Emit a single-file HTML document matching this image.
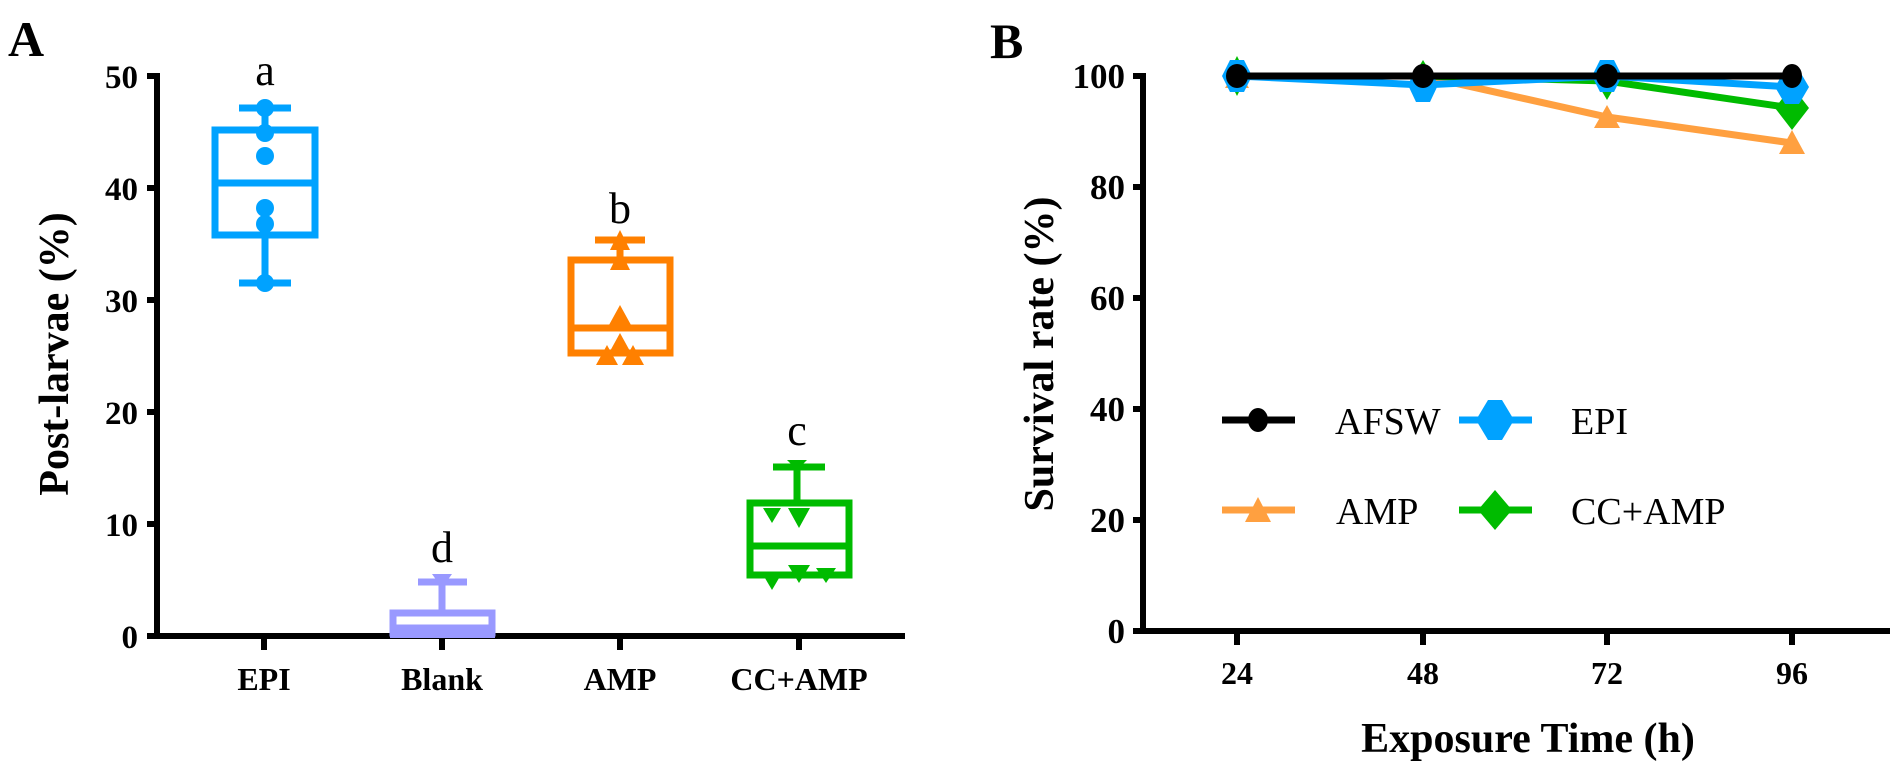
<!DOCTYPE html>
<html><head><style>body{margin:0;background:#fff}svg{display:block}</style></head><body>
<svg width="1900" height="770" xmlns="http://www.w3.org/2000/svg" font-family="Liberation Serif, serif">
<rect width="1900" height="770" fill="#fff"/>
<text x="8" y="56" font-size="50" font-weight="bold">A</text>
<text x="990" y="58" font-size="50" font-weight="bold">B</text>
<!-- Panel A axes -->
<g stroke="#000" stroke-width="6" fill="none">
<line x1="157" y1="73" x2="157" y2="639"/>
<line x1="154" y1="636" x2="905" y2="636"/>
<line x1="147" y1="76" x2="157" y2="76"/><line x1="147" y1="188" x2="157" y2="188"/><line x1="147" y1="300" x2="157" y2="300"/><line x1="147" y1="412" x2="157" y2="412"/><line x1="147" y1="524" x2="157" y2="524"/><line x1="147" y1="636" x2="157" y2="636"/>
<line x1="264" y1="636" x2="264" y2="650"/><line x1="442" y1="636" x2="442" y2="650"/><line x1="620" y1="636" x2="620" y2="650"/><line x1="799" y1="636" x2="799" y2="650"/>
</g>
<g font-size="33" font-weight="bold" text-anchor="end">
<text x="138" y="88">50</text><text x="138" y="200">40</text><text x="138" y="312">30</text><text x="138" y="424">20</text><text x="138" y="536">10</text><text x="138" y="648">0</text>
</g>
<text transform="translate(68,354) rotate(-90)" font-size="42" font-weight="bold" text-anchor="middle">Post-larvae (%)</text>
<g font-size="32" font-weight="bold" text-anchor="middle">
<text x="264" y="690">EPI</text><text x="442" y="690">Blank</text><text x="620" y="690">AMP</text><text x="799" y="690">CC+AMP</text>
</g>
<g font-size="44" text-anchor="middle">
<text x="265" y="85">a</text><text x="620" y="223">b</text><text x="442" y="562">d</text><text x="797" y="445">c</text>
</g>
<!-- EPI -->
<g stroke="#00a2ff" stroke-width="7" fill="none">
<rect x="215" y="130" width="100" height="105"/><line x1="215" y1="183" x2="315" y2="183"/>
<line x1="265" y1="130" x2="265" y2="108"/><line x1="239" y1="108" x2="291" y2="108"/>
<line x1="265" y1="235" x2="265" y2="283"/><line x1="239" y1="283" x2="291" y2="283"/>
</g>
<g fill="#00a2ff"><circle cx="265" cy="108" r="9"/><circle cx="265" cy="133" r="9"/><circle cx="265" cy="156" r="9"/><circle cx="265" cy="208" r="9"/><circle cx="265" cy="224" r="9"/><circle cx="265" cy="283" r="9"/></g>
<!-- Blank -->
<g stroke="#9999ff" stroke-width="7" fill="none">
<rect x="393" y="613" width="99" height="20"/><line x1="393" y1="628" x2="492" y2="628"/><line x1="442" y1="613" x2="442" y2="582"/><line x1="418" y1="582" x2="467" y2="582"/>
</g>
<g fill="#9999ff"><rect x="390" y="625" width="105" height="13"/><path d="M432 574h20l-10 14z"/></g>
<!-- AMP -->
<g stroke="#ff8000" stroke-width="7" fill="none">
<rect x="571" y="260" width="99" height="93"/><line x1="571" y1="328" x2="670" y2="328"/>
<line x1="620" y1="260" x2="620" y2="240"/><line x1="595" y1="240" x2="645" y2="240"/>
</g>
<g fill="#ff8000"><path d="M620 230l10 20h-20z"/><path d="M620 250l10 20h-20z"/><path d="M620 305l11 20h-22z"/><path d="M620 333l11 20h-22z"/><path d="M607 345l11 20h-22z"/><path d="M633 345l11 20h-22z"/></g>
<!-- CC+AMP -->
<g stroke="#00bb00" stroke-width="7" fill="none">
<rect x="750" y="503" width="99" height="72"/><line x1="750" y1="546" x2="849" y2="546"/>
<line x1="797" y1="503" x2="797" y2="467"/><line x1="773" y1="467" x2="825" y2="467"/>
</g>
<g fill="#00bb00"><path d="M787 460h20l-10 10z"/><path d="M763 508h18l-9 15z"/><path d="M788 508h22l-11 20z"/><path d="M762 573h20l-10 17z"/><path d="M788 565h22l-11 18z"/><path d="M816 568h20l-10 15z"/></g>
<!-- Panel B axes -->
<g stroke="#000" stroke-width="6" fill="none">
<line x1="1143" y1="73" x2="1143" y2="634"/>
<line x1="1140" y1="631" x2="1890" y2="631"/>
<line x1="1133" y1="76" x2="1143" y2="76"/><line x1="1133" y1="187" x2="1143" y2="187"/><line x1="1133" y1="298" x2="1143" y2="298"/><line x1="1133" y1="409" x2="1143" y2="409"/><line x1="1133" y1="520" x2="1143" y2="520"/><line x1="1133" y1="631" x2="1143" y2="631"/>
<line x1="1237" y1="631" x2="1237" y2="645"/><line x1="1423" y1="631" x2="1423" y2="645"/><line x1="1607" y1="631" x2="1607" y2="645"/><line x1="1792" y1="631" x2="1792" y2="645"/>
</g>
<g font-size="35" font-weight="bold" text-anchor="end">
<text x="1125" y="88">100</text><text x="1125" y="199">80</text><text x="1125" y="310">60</text><text x="1125" y="421">40</text><text x="1125" y="532">20</text><text x="1125" y="643">0</text>
</g>
<g font-size="32" font-weight="bold" text-anchor="middle">
<text x="1237" y="684">24</text><text x="1423" y="684">48</text><text x="1607" y="684">72</text><text x="1792" y="684">96</text>
</g>
<text x="1528" y="752" font-size="42" font-weight="bold" text-anchor="middle">Exposure Time (h)</text>
<text transform="translate(1053,354) rotate(-90)" font-size="42" font-weight="bold" text-anchor="middle">Survival rate  (%)</text>
<!-- series -->
<polyline points="1237,76 1423,76 1607,117 1792,143" stroke="#ffa040" stroke-width="7" fill="none"/>
<g fill="#ffa040"><path d="M1237 68l12 20h-24z"/><path d="M1607 105l13 23h-26z"/><path d="M1792 130l13 24h-26z"/></g>
<polyline points="1237,76 1423,76 1607,81 1792,108" stroke="#00bb00" stroke-width="7" fill="none"/>
<g fill="#00bb00"><path d="M1237 56l10 20-10 20-10-20z"/><path d="M1423 60l11 18-11 18-11-18z"/><path d="M1607 62l11 19-11 19-11-19z"/><path d="M1792 86l17 22-17 22-17-22z"/></g>
<polyline points="1237,76 1423,85 1607,76 1792,87" stroke="#00a2ff" stroke-width="7" fill="none"/>
<g fill="#00a2ff"><path d="M1230 60h14l8 16-8 16h-14l-8-16z"/><path d="M1416 68h14l8 17-8 17h-14l-8-17z"/><path d="M1600 60h14l8 16-8 16h-14l-8-16z"/><path d="M1785 70h14l10 17-10 17h-14l-10-17z"/></g>
<polyline points="1237,76 1423,76 1607,76 1792,76" stroke="#000" stroke-width="7" fill="none"/>
<g fill="#000"><ellipse cx="1237" cy="76" rx="11" ry="12"/><ellipse cx="1423" cy="76" rx="11" ry="12"/><ellipse cx="1607" cy="76" rx="11" ry="12"/><ellipse cx="1792" cy="76" rx="10" ry="12"/></g>
<!-- legend -->
<line x1="1222" y1="420" x2="1295" y2="420" stroke="#000" stroke-width="7"/><ellipse cx="1258" cy="420" rx="10" ry="12"/>
<text x="1335" y="434" font-size="38">AFSW</text>
<line x1="1459" y1="420" x2="1532" y2="420" stroke="#00a2ff" stroke-width="7"/><path d="M1488 400h14l12 20-12 20h-14l-12-20z" fill="#00a2ff"/>
<text x="1571" y="434" font-size="38">EPI</text>
<line x1="1222" y1="510" x2="1295" y2="510" stroke="#ffa040" stroke-width="7"/><path d="M1258 497l13 25h-26z" fill="#ffa040"/>
<text x="1336" y="524" font-size="38">AMP</text>
<line x1="1459" y1="510" x2="1532" y2="510" stroke="#00bb00" stroke-width="7"/><path d="M1495 490l17 20-17 20-17-20z" fill="#00bb00"/>
<text x="1571" y="524" font-size="38">CC+AMP</text>
</svg>
</body></html>
